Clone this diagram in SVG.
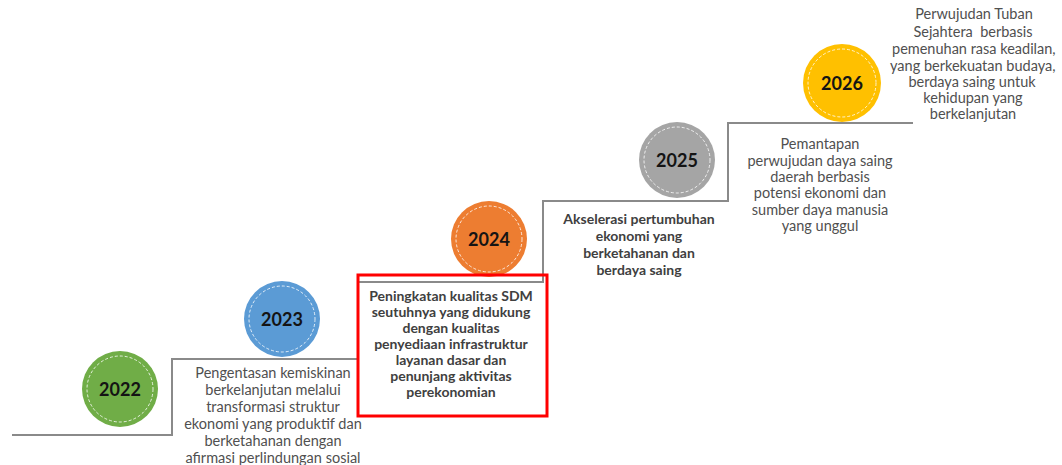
<svg xmlns="http://www.w3.org/2000/svg" width="1062" height="465" viewBox="0 0 1062 465">
<style>
.bg{fill:#ffffff}
.step{fill:none;stroke:#8a8a8a;stroke-width:2}
.ring{fill:none;stroke:#ffffff;stroke-width:1;stroke-dasharray:3 2;opacity:0.8}
.yr{font-family:Lato,"Open Sans",sans-serif;font-weight:700;font-size:18px;fill:#141414;text-anchor:middle}
.t{font-family:Lato,"Open Sans",sans-serif;font-size:14.5px;fill:#505050;text-anchor:middle}
.b{font-family:Lato,"Open Sans",sans-serif;font-size:14px;font-weight:700;fill:#404040;text-anchor:middle}
.hl{fill:none;stroke:#ff0000;stroke-width:3}
</style>
<rect class="bg" x="0" y="0" width="1062" height="465"/>
<g id="connectors">
<path class="step" d="M12,435 H172 V359 H358 V282 H543 V201 H728 V123 H913"/>
</g>
<g id="n2022">
<circle cx="120" cy="389" r="38" fill="#70ad47"/>
<circle class="ring" cx="120" cy="389" r="33"/>
<text class="yr" x="120" y="396">2022</text>
</g>
<g id="n2023">
<circle cx="282" cy="319" r="38" fill="#5b9bd5"/>
<circle class="ring" cx="282" cy="319" r="33"/>
<text class="yr" x="282" y="326">2023</text>
<text class="t" x="273" y="378">Pengentasan kemiskinan</text>
<text class="t" x="273" y="395">berkelanjutan melalui</text>
<text class="t" x="273" y="412">transformasi struktur</text>
<text class="t" x="273" y="429">ekonomi yang produktif dan</text>
<text class="t" x="273" y="446">berketahanan dengan</text>
<text class="t" x="273" y="463">afirmasi perlindungan sosial</text>
</g>
<g id="n2024">
<circle cx="489" cy="239" r="38" fill="#ed7d31"/>
<circle class="ring" cx="489" cy="239" r="33"/>
<text class="yr" x="489" y="246">2024</text>
<rect class="hl" x="358" y="275" width="189" height="141"/>
<text class="b" x="451" y="301">Peningkatan kualitas SDM</text>
<text class="b" x="451" y="317">seutuhnya yang didukung</text>
<text class="b" x="451" y="333">dengan kualitas</text>
<text class="b" x="451" y="349">penyediaan infrastruktur</text>
<text class="b" x="451" y="365">layanan dasar dan</text>
<text class="b" x="451" y="381">penunjang aktivitas</text>
<text class="b" x="451" y="397">perekonomian</text>
</g>
<g id="n2025">
<circle cx="677" cy="160" r="38" fill="#a5a5a5"/>
<circle class="ring" cx="677" cy="160" r="33"/>
<text class="yr" x="677" y="167">2025</text>
<text class="b" x="639" y="224">Akselerasi pertumbuhan</text>
<text class="b" x="639" y="241">ekonomi yang</text>
<text class="b" x="639" y="258">berketahanan dan</text>
<text class="b" x="639" y="275">berdaya saing</text>
</g>
<g id="n2026">
<circle cx="842" cy="83" r="39" fill="#ffc000"/>
<circle class="ring" cx="842" cy="83" r="34"/>
<text class="yr" x="842" y="90">2026</text>
<text class="t" x="820" y="149">Pemantapan</text>
<text class="t" x="820" y="166">perwujudan daya saing</text>
<text class="t" x="820" y="182">daerah berbasis</text>
<text class="t" x="820" y="198">potensi ekonomi dan</text>
<text class="t" x="820" y="215">sumber daya manusia</text>
<text class="t" x="820" y="231">yang unggul</text>
</g>
<g id="n2027">
<text class="t" x="974" y="19">Perwujudan Tuban</text>
<text class="t" x="973" y="37" xml:space="preserve">Sejahtera  berbasis</text>
<text class="t" x="892" y="54" style="text-anchor:start">pemenuhan rasa keadilan,</text>
<text class="t" x="890" y="71" style="text-anchor:start">yang berkekuatan budaya,</text>
<text class="t" x="972" y="87">berdaya saing untuk</text>
<text class="t" x="973" y="103">kehidupan yang</text>
<text class="t" x="973" y="119">berkelanjutan</text>
</g>
</svg>
